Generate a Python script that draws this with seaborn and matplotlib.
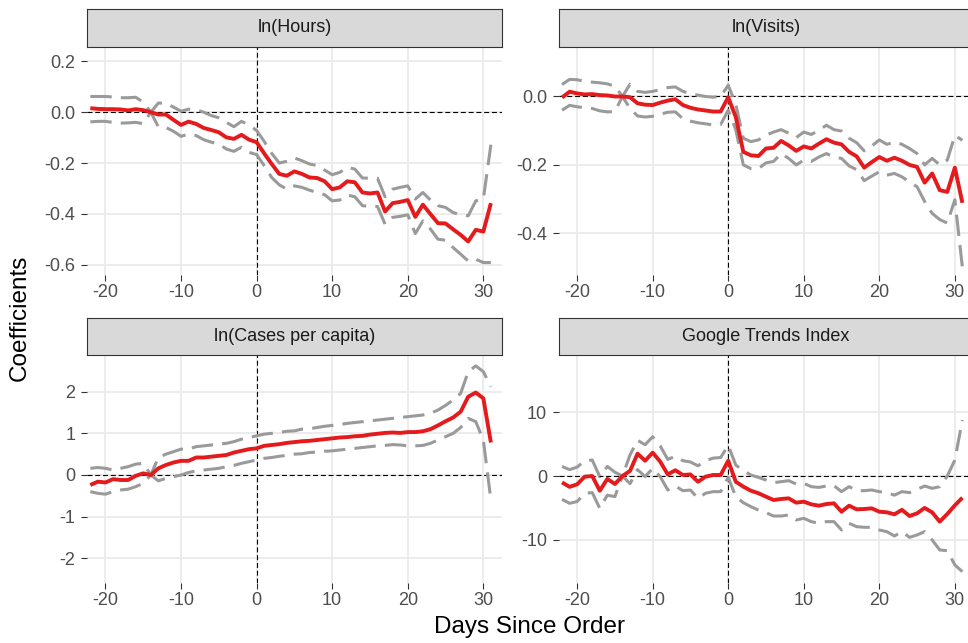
import matplotlib
matplotlib.use("Agg")
import matplotlib.pyplot as plt
import seaborn as sns
import pandas as pd
from matplotlib.ticker import FixedLocator, FuncFormatter

# ---------------- data ----------------
days = list(range(-22, 32))
panel_titles = ["ln(Hours)", "ln(Visits)", "ln(Cases per capita)", "Google Trends Index"]
x_ticks = [-20, -10, 0, 10, 20, 30]

hours_est = [0.016, 0.013, 0.012, 0.012, 0.011, 0.007, 0.012, 0.008, 0.0, -0.009, -0.009, -0.030,
             -0.050, -0.037, -0.046, -0.062, -0.070, -0.079, -0.099, -0.105, -0.089, -0.108, -0.118,
             -0.162, -0.204, -0.243, -0.250, -0.233, -0.243, -0.257, -0.259, -0.272, -0.303,
             -0.296, -0.272, -0.276, -0.316, -0.320, -0.316, -0.391, -0.358, -0.353, -0.346,
             -0.412, -0.364, -0.401, -0.437, -0.438, -0.461, -0.483, -0.509, -0.463, -0.470, -0.358]
hours_hi = [0.062, 0.062, 0.062, 0.060, 0.057, 0.057, 0.059, 0.040, 0.0, 0.036, 0.036, 0.020,
            0.004, 0.012, 0.010, 0.000, -0.013, -0.022, -0.040, -0.057, -0.036, -0.050, -0.072,
            -0.115, -0.162, -0.200, -0.193, -0.180, -0.191, -0.204, -0.210, -0.228, -0.246,
            -0.237, -0.217, -0.224, -0.259, -0.260, -0.260, -0.333, -0.303, -0.296, -0.290,
            -0.342, -0.316, -0.346, -0.368, -0.375, -0.395, -0.404, -0.408, -0.349, -0.342, -0.128]
hours_lo = [-0.038, -0.036, -0.036, -0.040, -0.043, -0.042, -0.040, -0.045, 0.0, -0.057, -0.060, -0.075,
            -0.095, -0.086, -0.092, -0.108, -0.118, -0.125, -0.145, -0.154, -0.138, -0.158, -0.167,
            -0.210, -0.257, -0.286, -0.303, -0.290, -0.296, -0.307, -0.316, -0.325, -0.349,
            -0.346, -0.326, -0.333, -0.368, -0.371, -0.371, -0.441, -0.414, -0.410, -0.404,
            -0.478, -0.428, -0.460, -0.500, -0.504, -0.533, -0.559, -0.586, -0.579, -0.592, -0.592]

visits_est = [-0.003, 0.014, 0.009, 0.006, 0.007, 0.004, 0.003, 0.000, 0.0, -0.002, -0.020, -0.024,
              -0.025, -0.018, -0.012, -0.008, -0.025, -0.033, -0.038, -0.041, -0.044, -0.044, -0.002,
              -0.060, -0.162, -0.172, -0.174, -0.152, -0.150, -0.130, -0.143, -0.159, -0.146,
              -0.152, -0.138, -0.125, -0.135, -0.140, -0.162, -0.175, -0.208, -0.192, -0.177,
              -0.188, -0.179, -0.188, -0.200, -0.206, -0.252, -0.225, -0.274, -0.279, -0.208, -0.311]
visits_hi = [0.035, 0.050, 0.049, 0.044, 0.042, 0.040, 0.037, 0.030, 0.0, 0.036, 0.015, 0.012,
             0.015, 0.020, 0.026, 0.028, 0.015, 0.008, 0.004, 0.000, -0.002, 0.000, 0.033,
             -0.023, -0.122, -0.132, -0.127, -0.113, -0.104, -0.097, -0.107, -0.120, -0.104,
             -0.111, -0.099, -0.084, -0.097, -0.101, -0.122, -0.135, -0.159, -0.145, -0.127,
             -0.140, -0.133, -0.140, -0.152, -0.167, -0.200, -0.181, -0.200, -0.186, -0.114, -0.128]
visits_lo = [-0.040, -0.026, -0.030, -0.033, -0.035, -0.042, -0.045, -0.044, 0.0, -0.035, -0.057, -0.060,
             -0.058, -0.052, -0.046, -0.045, -0.065, -0.072, -0.077, -0.080, -0.083, -0.082, -0.040,
             -0.097, -0.200, -0.211, -0.211, -0.194, -0.190, -0.167, -0.181, -0.200, -0.186,
             -0.190, -0.177, -0.167, -0.177, -0.181, -0.203, -0.214, -0.246, -0.233, -0.220,
             -0.230, -0.225, -0.235, -0.250, -0.264, -0.307, -0.342, -0.360, -0.370, -0.302, -0.500]

cases_est = [-0.24, -0.16, -0.18, -0.10, -0.12, -0.12, -0.02, 0.04, 0.00, 0.16, 0.24, 0.30,
             0.34, 0.34, 0.42, 0.42, 0.44, 0.46, 0.48, 0.54, 0.58, 0.62, 0.64,
             0.70, 0.72, 0.74, 0.77, 0.79, 0.81, 0.82, 0.84, 0.86, 0.88,
             0.90, 0.91, 0.93, 0.94, 0.97, 0.99, 1.01, 1.02, 1.01, 1.03,
             1.03, 1.05, 1.10, 1.19, 1.29, 1.38, 1.52, 1.88, 1.98, 1.84, 0.78]
cases_hi = [0.16, 0.18, 0.16, 0.12, 0.16, 0.20, 0.26, 0.28, 0.00, 0.42, 0.50, 0.56,
            0.62, 0.62, 0.68, 0.70, 0.72, 0.74, 0.76, 0.80, 0.86, 0.90, 0.94,
            0.98, 1.00, 1.02, 1.05, 1.06, 1.10, 1.11, 1.14, 1.17, 1.19,
            1.21, 1.24, 1.26, 1.28, 1.30, 1.32, 1.34, 1.36, 1.38, 1.40,
            1.42, 1.44, 1.48, 1.56, 1.67, 1.80, 1.96, 2.48, 2.62, 2.48, 2.12]
cases_lo = [-0.40, -0.44, -0.46, -0.40, -0.36, -0.34, -0.28, -0.20, 0.00, -0.14, -0.08, -0.04,
            0.00, 0.06, 0.10, 0.12, 0.14, 0.16, 0.20, 0.23, 0.28, 0.32, 0.36,
            0.40, 0.42, 0.45, 0.47, 0.50, 0.51, 0.54, 0.55, 0.57, 0.58,
            0.60, 0.62, 0.64, 0.66, 0.68, 0.70, 0.71, 0.73, 0.72, 0.70,
            0.70, 0.71, 0.76, 0.84, 0.92, 1.00, 1.14, 1.36, 1.28, 0.84, -0.60]

google_est = [-1.0, -1.7, -1.3, -0.1, 0.0, -2.3, -0.45, -1.25, 0.0, 0.8, 3.5, 2.4,
              3.66, 2.25, 0.25, 0.9, 0.16, 0.25, -0.9, -0.1, 0.16, 0.16, 2.4,
              -0.89, -1.67, -2.3, -2.7, -3.24, -3.76, -3.6, -3.5, -4.18, -4.02,
              -4.44, -4.65, -4.39, -4.28, -5.59, -4.65, -5.22, -5.17, -5.07, -5.59,
              -5.69, -6.0, -5.3, -6.27, -5.85, -5.0, -5.7, -7.15, -5.95, -4.6, -3.4]
google_hi = [1.5, 1.0, 1.4, 2.4, 2.5, -0.1, 1.5, 0.6, 0.0, 3.3, 5.6, 4.9,
             6.16, 4.7, 2.6, 3.1, 2.4, 2.2, 1.6, 2.4, 2.8, 2.9, 4.8,
             1.72, 0.84, 0.16, -0.21, -0.63, -1.04, -0.89, -0.73, -1.25, -1.15,
             -1.67, -1.78, -1.57, -1.51, -2.45, -1.67, -2.3, -2.3, -2.19, -2.45,
             -2.6, -3.0, -2.45, -2.6, -2.09, -1.57, -1.93, -1.67, 0.0, 2.5, 8.77]
google_lo = [-3.66, -4.28, -4.0, -2.7, -2.6, -5.07, -3.0, -3.24, 0.0, -1.2, 1.0, -0.1,
             1.2, -0.1, -2.19, -1.57, -2.3, -2.2, -3.5, -2.7, -2.45, -2.45, -0.2,
             -3.24, -4.18, -4.8, -5.33, -5.74, -6.27, -6.27, -6.11, -6.89, -6.63,
             -7.15, -7.42, -7.15, -7.15, -8.46, -7.42, -7.94, -8.04, -8.04, -8.46,
             -8.72, -9.4, -8.72, -9.61, -9.24, -8.72, -10.03, -11.6, -11.7, -13.94, -14.99]

y_ticks = [[-0.6, -0.4, -0.2, 0.0, 0.2], [-0.4, -0.2, 0.0], [-2, -1, 0, 1, 2], [-10, 0, 10]]
y_fmt = ["{:.1f}", "{:.1f}", "{:.0f}", "{:.0f}"]
y_lims = [(-0.641, 0.258), (-0.522, 0.1456), (-2.593, 2.881), (-16.77, 18.97)]
x_lim = (-22.4, 32.43)

series = [(hours_est, hours_lo, hours_hi), (visits_est, visits_lo, visits_hi),
          (cases_est, cases_lo, cases_hi), (google_est, google_lo, google_hi)]

# ---------------- styling ----------------
sns.set_theme(style="white")
plt.rcParams['font.family'] = ['Liberation Sans', 'DejaVu Sans']
plt.rcParams['axes.unicode_minus'] = False

W, H = 968, 643
fig = plt.figure(figsize=(W / 100, H / 100), dpi=100)
fig.patch.set_facecolor("white")


def px_axes(left, top, right, bottom):
    return fig.add_axes([left / W, 1 - bottom / H, (right - left) / W, (bottom - top) / H])


layout = [(87.3, 46.7, 501.7, 275), (559, 46.7, 973.2, 275),
          (87.3, 355, 501.7, 583), (559, 355, 973.2, 583)]
strip_h = 37.4

RED = "#E41A1C"
GREY = "#9A9A9A"

for i, (l, t, r, b) in enumerate(layout):
    ax = px_axes(l, t, r, b)
    est, lo, hi = series[i]
    df = pd.DataFrame({"day": days, "est": est, "lo": lo, "hi": hi})

    ax.axhline(0, color="black", lw=0.8, ls=(0, (4.5, 2.5)), zorder=1.5)
    ax.axvline(0, color="black", lw=0.8, ls=(0, (4.5, 2.5)), zorder=1.5)
    for col in ["lo", "hi"]:
        sns.lineplot(data=df, x="day", y=col, ax=ax, color=GREY, linewidth=2.2,
                     linestyle=(0, (7, 3)), estimator=None, errorbar=None, sort=False, zorder=2)
    sns.lineplot(data=df, x="day", y="est", ax=ax, color=RED, linewidth=2.8,
                 estimator=None, errorbar=None, sort=False, zorder=3,
                 solid_joinstyle="round", solid_capstyle="butt")

    ax.set_xlim(*x_lim)
    ax.set_ylim(*y_lims[i])
    ax.xaxis.set_major_locator(FixedLocator(x_ticks))
    ax.yaxis.set_major_locator(FixedLocator(y_ticks[i]))
    fmt = y_fmt[i]
    ax.yaxis.set_major_formatter(FuncFormatter(lambda v, p, fmt=fmt: fmt.format(v + 0.0) if abs(v) > 1e-9 else fmt.format(0.0)))
    ax.set_xlabel("")
    ax.set_ylabel("")
    ax.set_facecolor("white")
    ax.grid(True, which="major", color="#EBEBEB", lw=1.3)
    ax.set_axisbelow(True)
    for s in ax.spines.values():
        s.set_visible(False)
    ax.tick_params(axis="both", which="major", bottom=True, left=True, length=4, width=0.8,
                   color="#333333", labelsize=13, labelcolor="#4D4D4D", direction="out")
    ax.tick_params(axis="y", pad=4.5)
    ax.tick_params(axis="x", pad=2.5)

    sax = px_axes(l, t - strip_h, r, t)
    sax.set_facecolor("#D9D9D9")
    sax.set_xticks([])
    sax.set_yticks([])
    for s in sax.spines.values():
        s.set_visible(True)
        s.set_color("#333333")
        s.set_linewidth(0.8)
    sax.text(0.5, 0.5, panel_titles[i], ha="center", va="center", fontsize=13,
             color="#1A1A1A", transform=sax.transAxes)

fig.text(530 / W, 1 - 626.7 / H, "Days Since Order", ha="center", va="center",
         fontsize=17.5, color="black")
fig.text(20 / W, 1 - 318 / H, "Coefficients", ha="center", va="center",
         fontsize=17.5, color="black", rotation=90)

fig.savefig("out.png", dpi=100)
